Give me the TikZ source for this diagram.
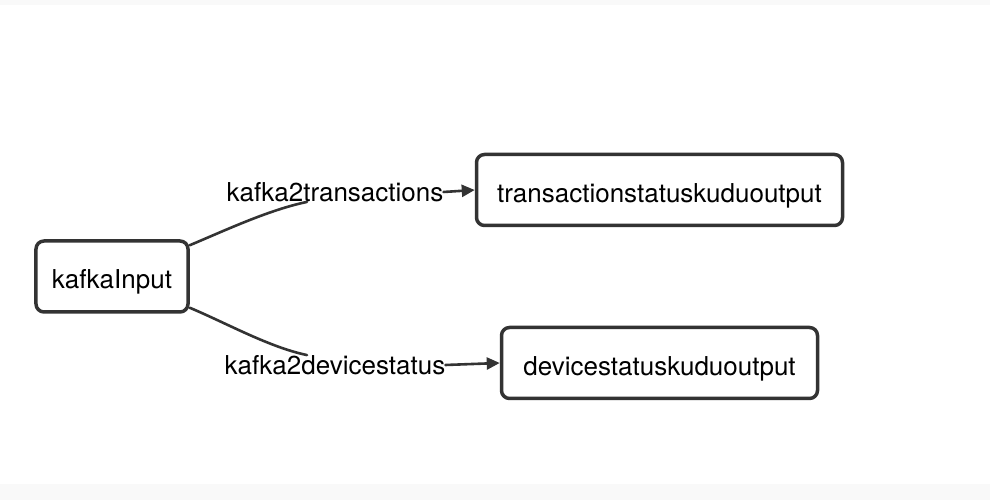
\documentclass[tikz,border=0pt]{standalone}
\usepackage{fontspec}
\setmainfont{TeX Gyre Heros}
\usetikzlibrary{arrows.meta}
\definecolor{linegray}{HTML}{333333}
\definecolor{bandgray}{HTML}{F9F9F9}
\tikzset{
	stage/.style={draw=linegray,line width=3.5bp,rounded corners=8bp,fill=white,inner sep=0pt,minimum height=71bp,text height=31bp,text depth=6bp},
	edgelabel/.style={inner sep=0pt},
	flow/.style={draw=linegray,line width=2.6bp,line cap=round}
}
\begin{document}
\begin{tikzpicture}[x=1bp,y=1bp,line join = round,>={Triangle[length=13bp,width=12bp]},font=\fontsize{26bp}{30bp}\selectfont]
			\useasboundingbox (0,0) rectangle (990,500);
			\fill[bandgray] (0,495) rectangle (990,500);
			\fill[bandgray] (0,0) rectangle (990,16);
			\node[stage,minimum width=152bp] (kafkainput) at (112,223.5) {kafkaInput};
			\node[stage,minimum width=366bp] (transout) at (659.5,310) {transactionstatuskuduoutput};
			\node[stage,minimum width=316bp] (deviceout) at (659.5,137) {devicestatuskuduoutput};
			\node[edgelabel] (k2trans) at (335,308) {kafka2transactions};
			\node[edgelabel] (k2device) at (335,135) {kafka2devicestatus};
			\draw[flow] ([yshift=-6bp]kafkainput.north east) .. controls +(38,16) and +(-38,-8) .. ([xshift=-28bp]k2trans.south);
			\draw[flow] ([yshift=6bp]kafkainput.south east) .. controls +(38,-16) and +(-38,8) .. ([xshift=-28bp]k2device.north);
			\draw[flow,->] (k2trans.east) -- (transout.west);
			\draw[flow,->] (k2device.east) -- (deviceout.west);
			\end{tikzpicture}
\end{document}
